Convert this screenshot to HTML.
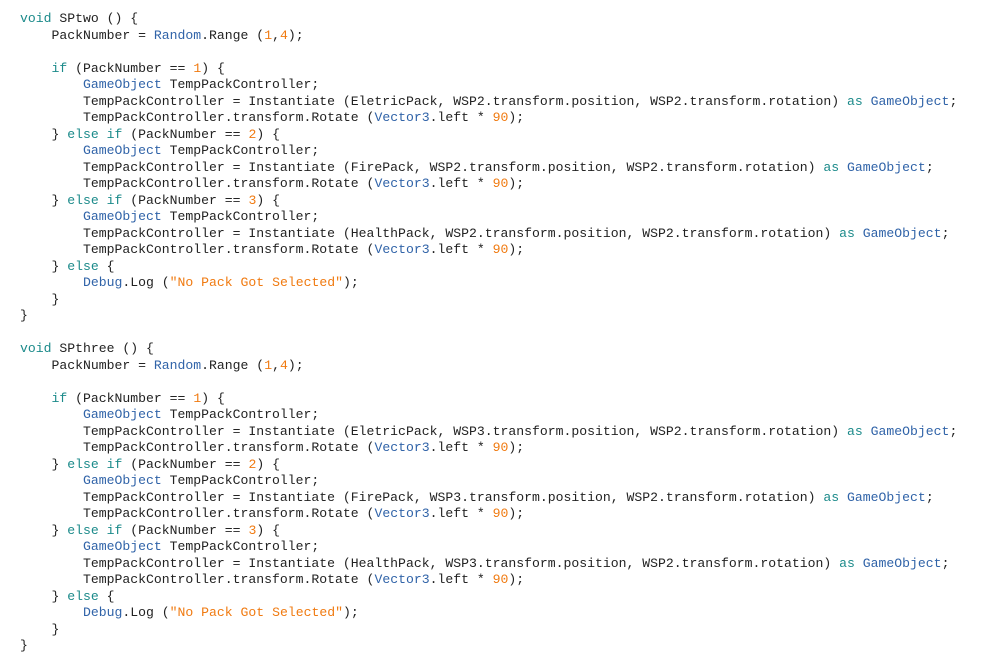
<!DOCTYPE html>
<html><head><style>
html,body{margin:0;padding:0;background:#fff;width:1000px;height:660px;overflow:hidden}
pre{position:absolute;left:20px;top:11px;margin:0;font-family:"Liberation Mono",monospace;font-size:13.13px;line-height:16.5px;color:#222}
.k{color:#1b8a8a}.t{color:#3063a8}.n{color:#f07a10}
</style></head><body><pre><span class="k">void</span> SPtwo () {
    PackNumber = <span class="t">Random</span>.Range (<span class="n">1</span>,<span class="n">4</span>);

    <span class="k">if</span> (PackNumber == <span class="n">1</span>) {
        <span class="t">GameObject</span> TempPackController;
        TempPackController = Instantiate (EletricPack, WSP2.transform.position, WSP2.transform.rotation) <span class="k">as</span> <span class="t">GameObject</span>;
        TempPackController.transform.Rotate (<span class="t">Vector3</span>.left * <span class="n">90</span>);
    } <span class="k">else if</span> (PackNumber == <span class="n">2</span>) {
        <span class="t">GameObject</span> TempPackController;
        TempPackController = Instantiate (FirePack, WSP2.transform.position, WSP2.transform.rotation) <span class="k">as</span> <span class="t">GameObject</span>;
        TempPackController.transform.Rotate (<span class="t">Vector3</span>.left * <span class="n">90</span>);
    } <span class="k">else if</span> (PackNumber == <span class="n">3</span>) {
        <span class="t">GameObject</span> TempPackController;
        TempPackController = Instantiate (HealthPack, WSP2.transform.position, WSP2.transform.rotation) <span class="k">as</span> <span class="t">GameObject</span>;
        TempPackController.transform.Rotate (<span class="t">Vector3</span>.left * <span class="n">90</span>);
    } <span class="k">else</span> {
        <span class="t">Debug</span>.Log (<span class="n">"No Pack Got Selected"</span>);
    }
}

<span class="k">void</span> SPthree () {
    PackNumber = <span class="t">Random</span>.Range (<span class="n">1</span>,<span class="n">4</span>);

    <span class="k">if</span> (PackNumber == <span class="n">1</span>) {
        <span class="t">GameObject</span> TempPackController;
        TempPackController = Instantiate (EletricPack, WSP3.transform.position, WSP2.transform.rotation) <span class="k">as</span> <span class="t">GameObject</span>;
        TempPackController.transform.Rotate (<span class="t">Vector3</span>.left * <span class="n">90</span>);
    } <span class="k">else if</span> (PackNumber == <span class="n">2</span>) {
        <span class="t">GameObject</span> TempPackController;
        TempPackController = Instantiate (FirePack, WSP3.transform.position, WSP2.transform.rotation) <span class="k">as</span> <span class="t">GameObject</span>;
        TempPackController.transform.Rotate (<span class="t">Vector3</span>.left * <span class="n">90</span>);
    } <span class="k">else if</span> (PackNumber == <span class="n">3</span>) {
        <span class="t">GameObject</span> TempPackController;
        TempPackController = Instantiate (HealthPack, WSP3.transform.position, WSP2.transform.rotation) <span class="k">as</span> <span class="t">GameObject</span>;
        TempPackController.transform.Rotate (<span class="t">Vector3</span>.left * <span class="n">90</span>);
    } <span class="k">else</span> {
        <span class="t">Debug</span>.Log (<span class="n">"No Pack Got Selected"</span>);
    }
}</pre></body></html>
